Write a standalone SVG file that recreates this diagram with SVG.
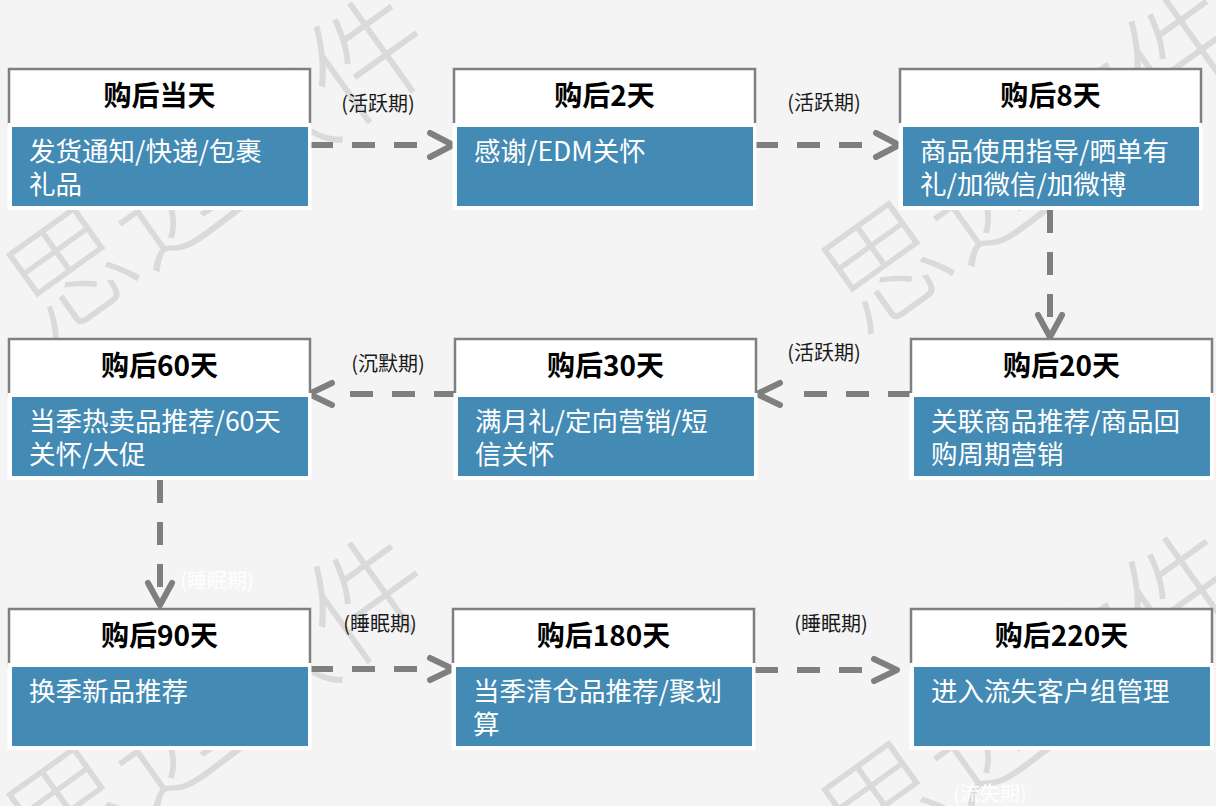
<svg xmlns="http://www.w3.org/2000/svg" width="1216" height="806" viewBox="0 0 1216 806">
<style>
.wm{font-family:"Noto Sans CJK SC",sans-serif;font-size:122px;font-weight:300;fill:#dadada}
.hd{fill:#ffffff;stroke:#7f7f7f;stroke-width:2.5}
.bw{fill:#ffffff}
.bb{fill:#438ab4}
.ht{font-family:"Noto Sans CJK SC",sans-serif;font-size:28px;font-weight:bold;fill:#000000;text-anchor:middle}
.bt{font-family:"Noto Sans CJK SC",sans-serif;font-size:26.5px;fill:#ffffff}
.ln{fill:none;stroke:#7f7f7f;stroke-width:6;stroke-dasharray:23 19}
.ah{fill:none;stroke:#7f7f7f;stroke-width:6;stroke-linecap:round;stroke-linejoin:round}
.lb{font-family:"Noto Sans CJK SC",sans-serif;font-size:20px;fill:#1a1a1a;text-anchor:middle}
.lw{font-family:"Noto Sans CJK SC",sans-serif;font-size:20px;fill:#ffffff;text-anchor:middle}
</style>
<rect x="0" y="0" width="1216" height="806" fill="#f4f4f4"/>
<g id="watermark">
<text class="wm" transform="translate(47,343) rotate(-35.6)">思迈软件</text>
<text class="wm" transform="translate(862,338) rotate(-35.6)">思迈软件</text>
<text class="wm" transform="translate(47,883) rotate(-35.6)">思迈软件</text>
<text class="wm" transform="translate(862,878) rotate(-35.6)">思迈软件</text>
</g>
<g id="connectors">
<line class="ln" x1="310" y1="145" x2="420" y2="145"/>
<polyline class="ah" points="430,133 453,145 430,157"/>
<line class="ln" x1="755" y1="145" x2="864" y2="145"/>
<polyline class="ah" points="876,133 899,145 876,157"/>
<line class="ln" x1="1050" y1="210" x2="1050" y2="318"/>
<polyline class="ah" points="1038,315 1050,337 1062,315"/>
<line class="ln" x1="911" y1="394" x2="800" y2="394"/>
<polyline class="ah" points="780,383 757,394 780,405"/>
<line class="ln" x1="457" y1="394" x2="345" y2="394"/>
<polyline class="ah" points="332,383 309,394 332,405"/>
<line class="ln" x1="160" y1="480" x2="160" y2="588"/>
<polyline class="ah" points="148,583 160,605 172,583"/>
<line class="ln" x1="310" y1="669" x2="420" y2="669"/>
<polyline class="ah" points="430,658 453,669 430,680"/>
<line class="ln" x1="755" y1="670" x2="862" y2="670"/>
<polyline class="ah" points="874,659 897,670 874,681"/>
<text class="lb" x="378" y="111">(活跃期)</text>
<text class="lb" x="824" y="110">(活跃期)</text>
<text class="lb" x="824" y="360">(活跃期)</text>
<text class="lb" x="388" y="371">(沉默期)</text>
<text class="lw" x="217" y="588">(睡眠期)</text>
<text class="lb" x="380" y="631">(睡眠期)</text>
<text class="lb" x="831" y="631">(睡眠期)</text>
<text class="lw" x="990" y="801">(流失期)</text>
</g>
<g id="node-d0">
<rect class="hd" x="9" y="69" width="301" height="56"/>
<text class="ht" x="159.5" y="106">购后当天</text>
<rect class="bw" x="7.5" y="123" width="304" height="87"/>
<rect class="bb" x="12" y="127" width="296" height="79"/>
<text class="bt" x="29" y="161">发货通知/快递/包裹</text>
<text class="bt" x="29" y="193.5">礼品</text>
</g>
<g id="node-d2">
<rect class="hd" x="454" y="69" width="301" height="56"/>
<text class="ht" x="604.5" y="106">购后2天</text>
<rect class="bw" x="452.5" y="123" width="304" height="87"/>
<rect class="bb" x="457" y="127" width="296" height="79"/>
<text class="bt" x="474" y="161">感谢/EDM关怀</text>
</g>
<g id="node-d8">
<rect class="hd" x="900" y="69" width="301" height="56"/>
<text class="ht" x="1050.5" y="106">购后8天</text>
<rect class="bw" x="898.5" y="123" width="304" height="87"/>
<rect class="bb" x="903" y="127" width="296" height="79"/>
<text class="bt" x="920" y="161">商品使用指导/晒单有</text>
<text class="bt" x="920" y="193.5">礼/加微信/加微博</text>
</g>
<g id="node-d20">
<rect class="hd" x="911" y="339" width="301" height="56"/>
<text class="ht" x="1061.5" y="376">购后20天</text>
<rect class="bw" x="909.5" y="393" width="304" height="87"/>
<rect class="bb" x="914" y="397" width="296" height="79"/>
<text class="bt" x="931" y="431">关联商品推荐/商品回</text>
<text class="bt" x="931" y="463.5">购周期营销</text>
</g>
<g id="node-d30">
<rect class="hd" x="455" y="339" width="301" height="56"/>
<text class="ht" x="605.5" y="376">购后30天</text>
<rect class="bw" x="453.5" y="393" width="304" height="87"/>
<rect class="bb" x="458" y="397" width="296" height="79"/>
<text class="bt" x="475" y="431">满月礼/定向营销/短</text>
<text class="bt" x="475" y="463.5">信关怀</text>
</g>
<g id="node-d60">
<rect class="hd" x="9" y="339" width="301" height="56"/>
<text class="ht" x="159.5" y="376">购后60天</text>
<rect class="bw" x="7.5" y="393" width="304" height="87"/>
<rect class="bb" x="12" y="397" width="296" height="79"/>
<text class="bt" x="29" y="431">当季热卖品推荐/60天</text>
<text class="bt" x="29" y="463.5">关怀/大促</text>
</g>
<g id="node-d90">
<rect class="hd" x="9" y="609" width="301" height="56"/>
<text class="ht" x="159.5" y="646">购后90天</text>
<rect class="bw" x="7.5" y="663" width="304" height="87"/>
<rect class="bb" x="12" y="667" width="296" height="79"/>
<text class="bt" x="29" y="701">换季新品推荐</text>
</g>
<g id="node-d180">
<rect class="hd" x="453" y="609" width="301" height="56"/>
<text class="ht" x="603.5" y="646">购后180天</text>
<rect class="bw" x="451.5" y="663" width="304" height="87"/>
<rect class="bb" x="456" y="667" width="296" height="79"/>
<text class="bt" x="473" y="701">当季清仓品推荐/聚划</text>
<text class="bt" x="473" y="733.5">算</text>
</g>
<g id="node-d220">
<rect class="hd" x="911" y="609" width="301" height="56"/>
<text class="ht" x="1061.5" y="646">购后220天</text>
<rect class="bw" x="909.5" y="663" width="304" height="87"/>
<rect class="bb" x="914" y="667" width="296" height="79"/>
<text class="bt" x="931" y="701">进入流失客户组管理</text>
</g>
</svg>
